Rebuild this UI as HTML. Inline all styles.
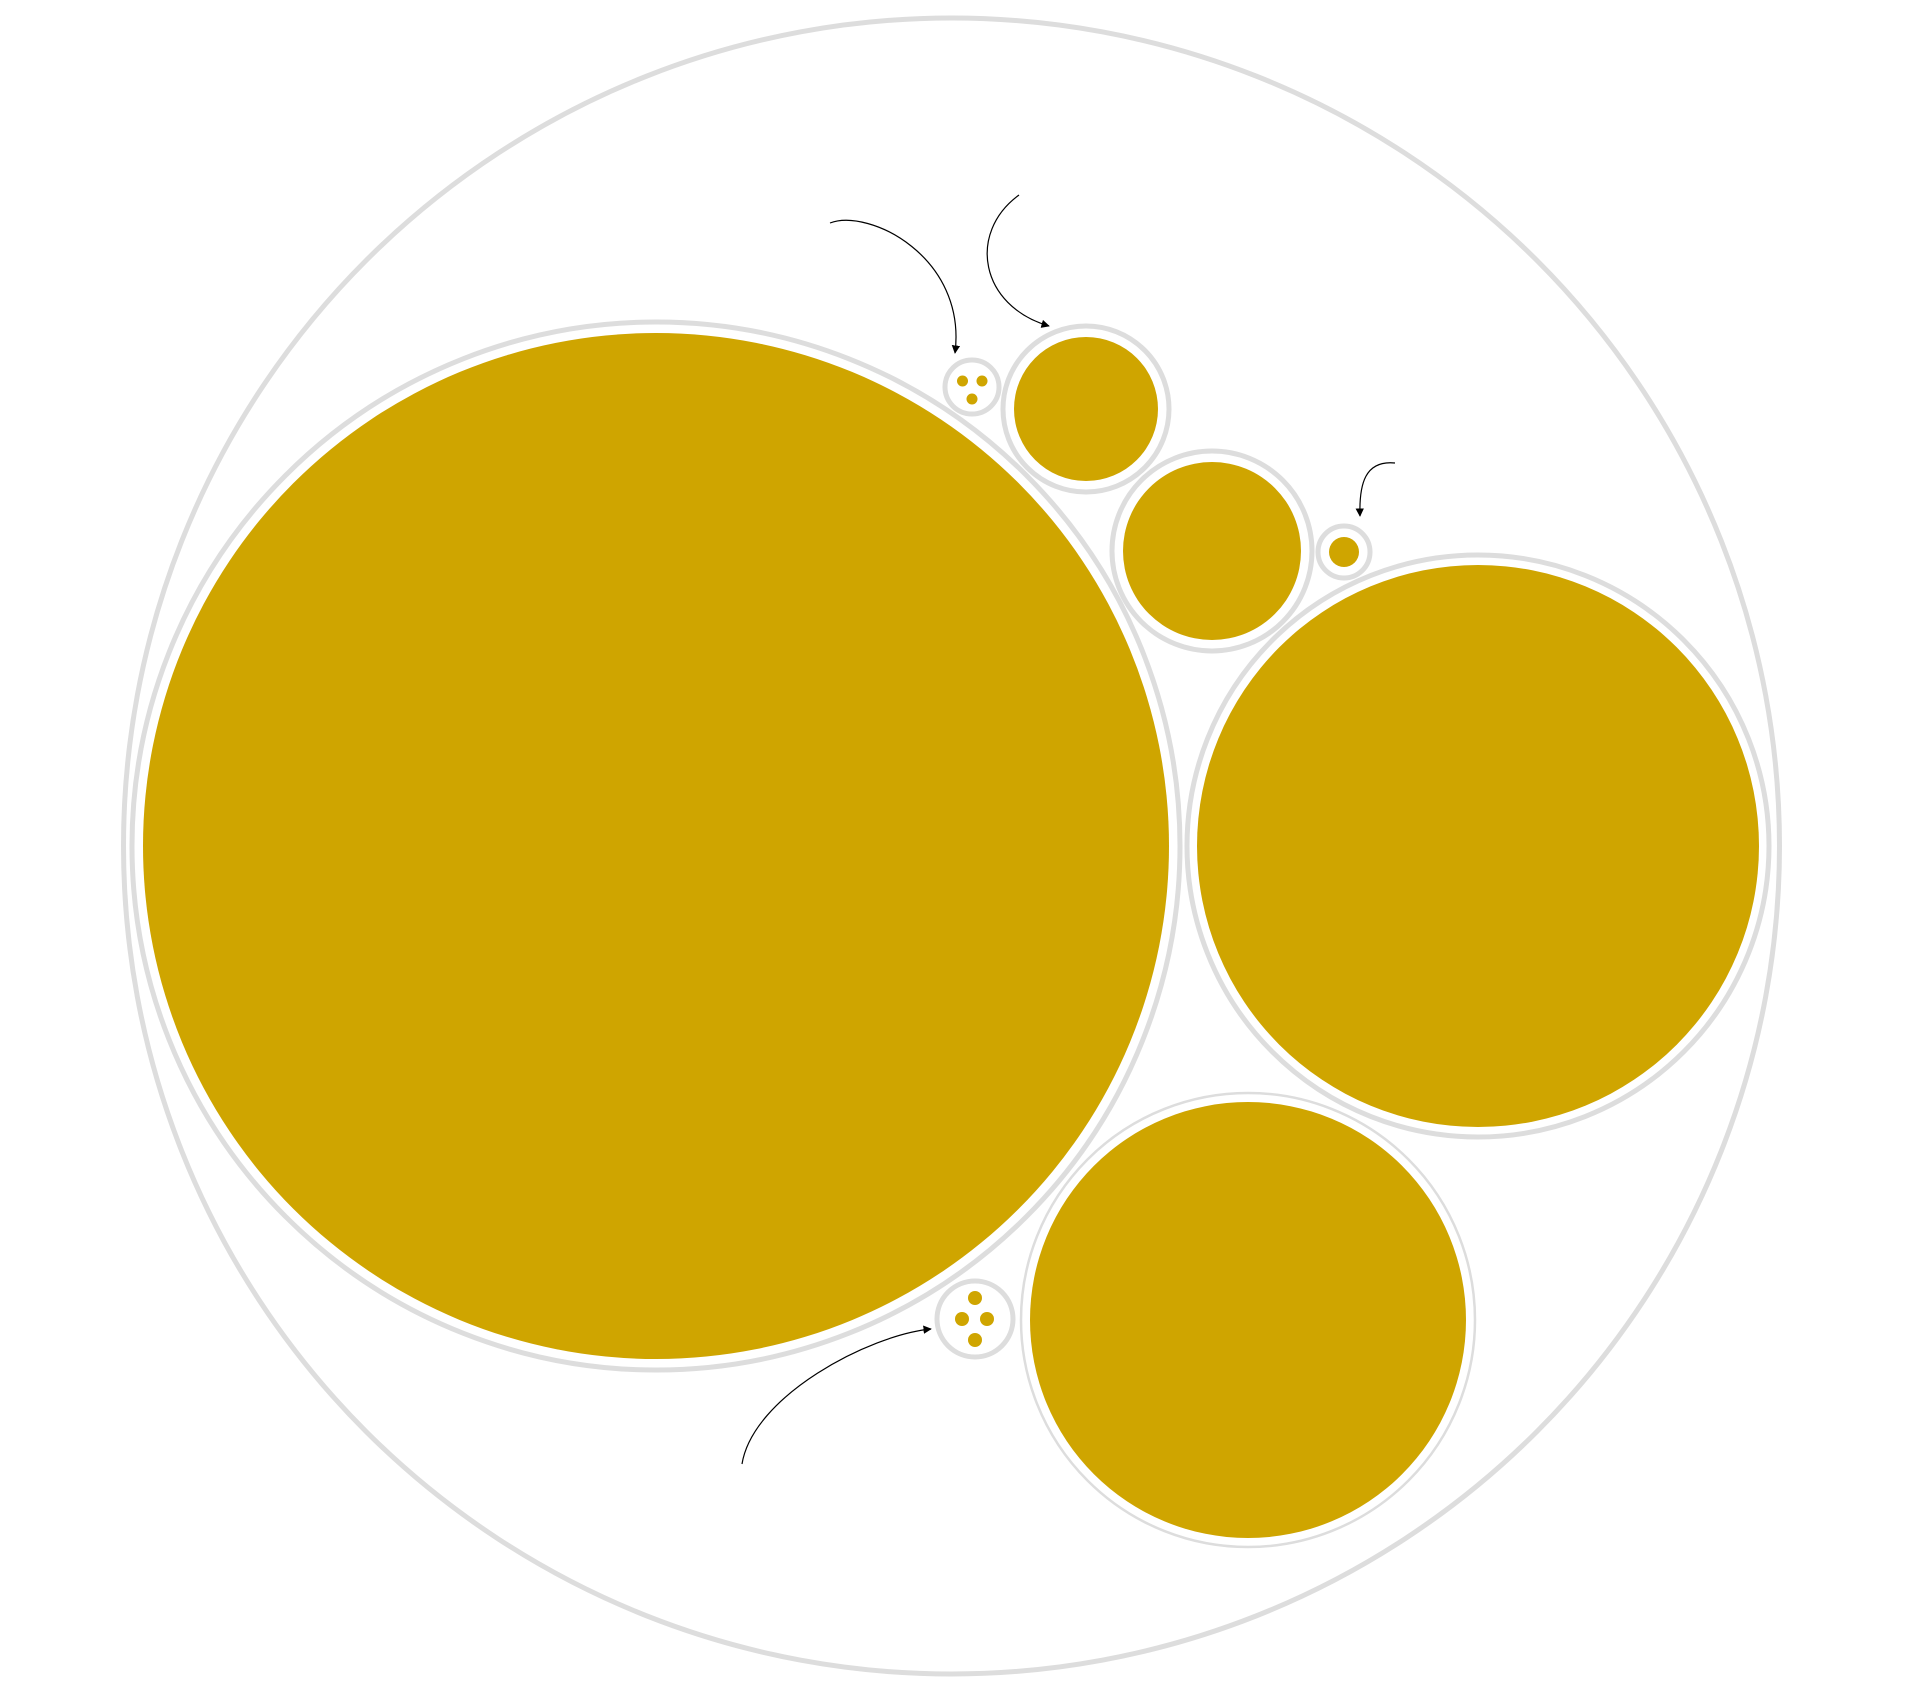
<!DOCTYPE html>
<html><head><meta charset="utf-8"><style>html,body{margin:0;padding:0;background:#fff}svg{display:block}</style></head>
<body>
<svg width="1920" height="1702" viewBox="0 0 1920 1702">
<defs><marker id="ah" viewBox="0 0 10 10" refX="9" refY="5" markerWidth="7" markerHeight="7" orient="auto"><path d="M0,0L10,5L0,10z" fill="#000"/></marker></defs>
<g id="rings"></g><g id="fills"></g><g id="arrows"></g>
</svg>
<script>
const groupNames=['root','big','right','bottom','top-mid','mid','tiny','three-dot','four-dot'];
const groupCx=[951.5,656,1478,1248,1086,1212,1344,972,975];
const groupCy=[846,846,846,1320,409,551,552,387,1319];
const groupR=[828,524,291,227,83,100,26,27,38];
const leafCx=[656,1478,1248,1086,1212,1344,962.5,982,972,975,962,987,975];
const leafCy=[846,846,1320,409,551,552,381,381,399,1298,1319,1319,1340];
const leafR=[513,281,218,72,89,15,5.5,5.5,5.5,7,7,7,7];
const NS='http://www.w3.org/2000/svg';
const rings=document.getElementById('rings'),fills=document.getElementById('fills'),arrows=document.getElementById('arrows');
for(let i=0;i<groupNames.length;i++){
  const c=document.createElementNS(NS,'circle');
  c.setAttribute('cx',groupCx[i]);c.setAttribute('cy',groupCy[i]);c.setAttribute('r',groupR[i]);
  c.setAttribute('fill','none');c.setAttribute('stroke','#dddddd');
  c.setAttribute('stroke-width',groupNames[i]==='bottom'?2.5:5);
  
  
  rings.appendChild(c);
}
for(let i=0;i<leafR.length;i++){
  const c=document.createElementNS(NS,'circle');
  c.setAttribute('cx',leafCx[i]);c.setAttribute('cy',leafCy[i]);c.setAttribute('r',leafR[i]);
  c.setAttribute('fill','#cfa500');
  
  
  fills.appendChild(c);
}
const arrowPaths=['M830,223 C869,208 967,257 955,353','M1019,195 C967,233 980,306 1049,326','M1395,463 C1365,460 1359,484 1360,516','M742,1464 C753,1396 869,1335 931,1329'];
for(let i=0;i<arrowPaths.length;i++){
  const p=document.createElementNS(NS,'path');
  p.setAttribute('d',arrowPaths[i]);p.setAttribute('fill','none');p.setAttribute('stroke','#000');
  p.setAttribute('stroke-width','1.2');p.setAttribute('marker-end','url(#ah)');
  
  
  arrows.appendChild(p);
}
</script>
</body></html>
